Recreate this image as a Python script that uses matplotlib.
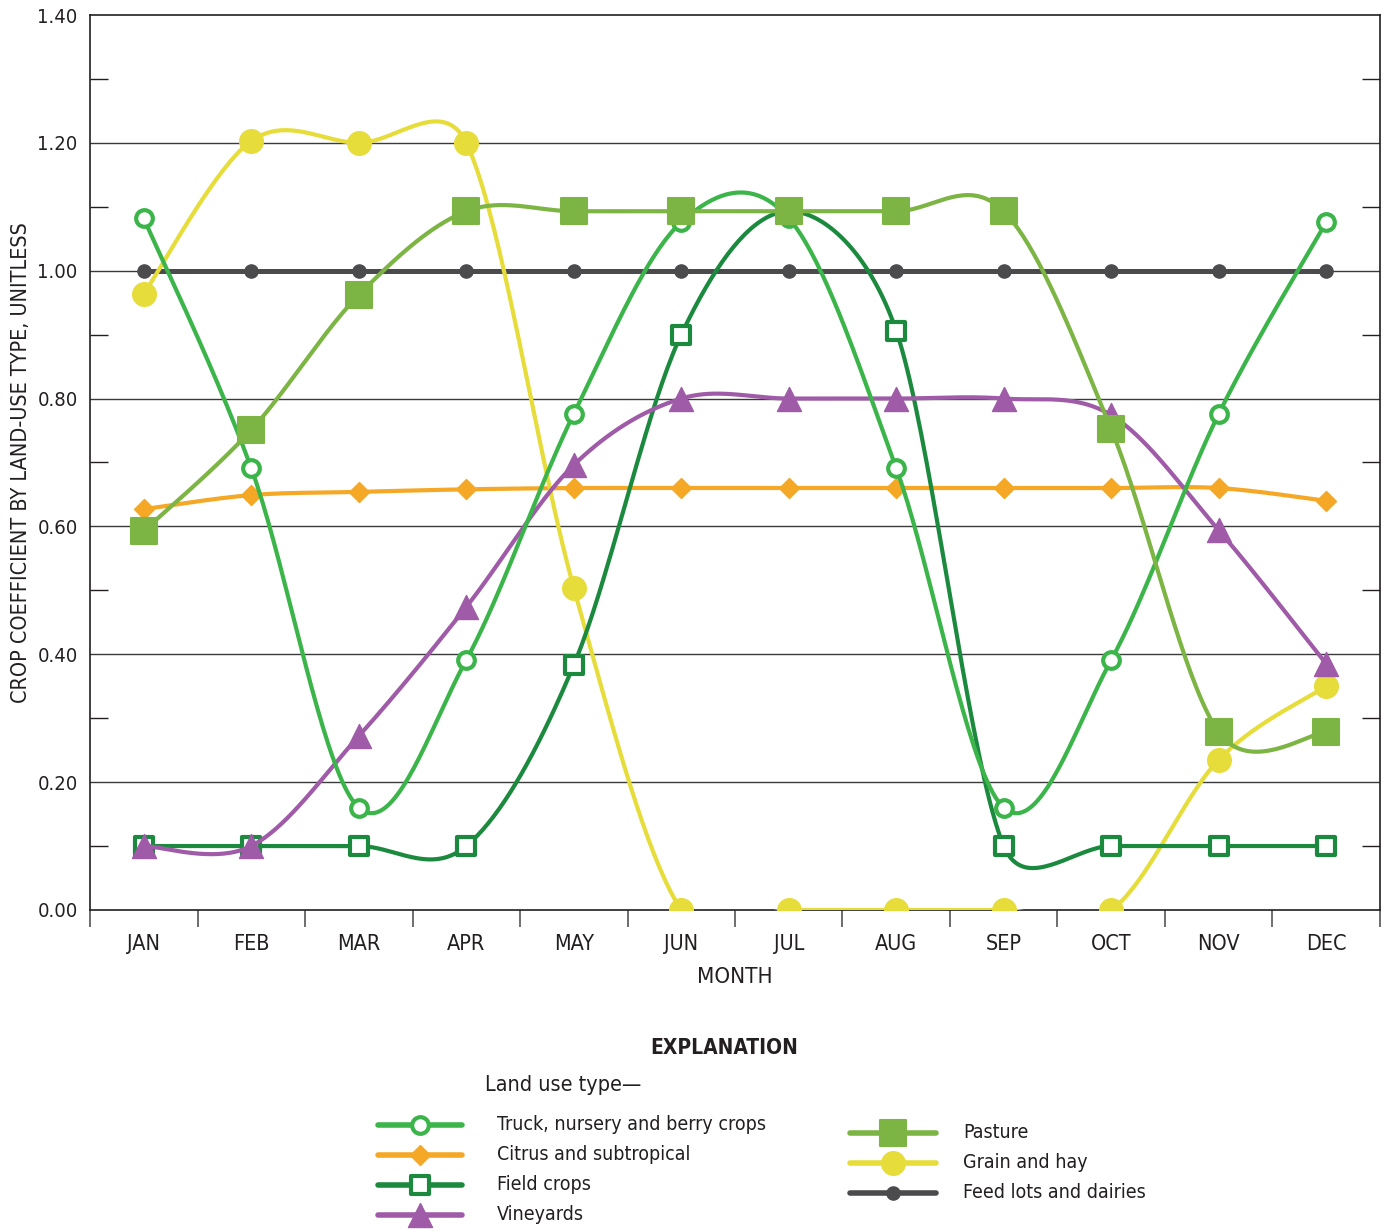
import numpy as np
import matplotlib
matplotlib.use("Agg")
import matplotlib.pyplot as plt
from matplotlib.lines import Line2D
from matplotlib.markers import MarkerStyle

plt.rcParams['font.family'] = ['DejaVu Sans']
plt.rcParams['font.stretch'] = 'condensed'

months = ['JAN', 'FEB', 'MAR', 'APR', 'MAY', 'JUN', 'JUL', 'AUG', 'SEP', 'OCT', 'NOV', 'DEC']

truck = [1.082, 0.691, 0.160, 0.391, 0.776, 1.076, 1.082, 0.691, 0.160, 0.391, 0.776, 1.076]
citrus = [0.627, 0.649, 0.654, 0.658, 0.660, 0.660, 0.660, 0.660, 0.660, 0.660, 0.660, 0.640]
field = [0.10, 0.10, 0.10, 0.10, 0.383, 0.900, 1.093, 0.906, 0.10, 0.10, 0.10, 0.10]
vineyards = [0.10, 0.10, 0.272, 0.474, 0.696, 0.80, 0.80, 0.80, 0.80, 0.774, 0.594, 0.385]
pasture = [0.593, 0.751, 0.962, 1.093, 1.093, 1.093, 1.093, 1.093, 1.093, 0.752, 0.278, 0.278]
grain = [0.964, 1.203, 1.200, 1.200, 0.504, 0.0, 0.0, 0.0, 0.0, 0.0, 0.235, 0.350]
feedlots = [1.0] * 12

labels = ['Truck, nursery and berry crops', 'Citrus and subtropical', 'Field crops', 'Vineyards',
          'Pasture', 'Grain and hay', 'Feed lots and dairies']

C_TRUCK = '#3bb54a'
C_CITRUS = '#f4a825'
C_FIELD = '#1c8a3e'
C_VINE = '#9f5ba7'
C_PAST = '#7db544'
C_GRAIN = '#e6dd3a'
C_FEED = '#4b4b4d'
TXT = '#231f20'


def smooth(ax, xv, yv, n=40):
    # spreadsheet-like smoothed line: bezier in screen space, handles at 1/6 of
    # the neighbour chord, capped at half of the segment length
    P = ax.transData.transform(np.column_stack([xv, yv]))
    k = len(P)
    T = np.zeros_like(P)
    for i in range(k):
        T[i] = (P[min(i + 1, k - 1)] - P[max(i - 1, 0)]) / 6
    out = []
    t = np.linspace(0, 1, n)[:, None]
    for i in range(k - 1):
        d = np.hypot(*(P[i + 1] - P[i]))
        a, b = T[i].copy(), T[i + 1].copy()
        for v in (a, b):
            ln = np.hypot(*v)
            if ln > 0.5 * d:
                v *= 0.5 * d / ln
        c1 = P[i] + a
        c2 = P[i + 1] - b
        seg = ((1 - t)**3 * P[i] + 3 * (1 - t)**2 * t * c1
               + 3 * (1 - t) * t**2 * c2 + t**3 * P[i + 1])
        out.append(seg if i == 0 else seg[1:])
    pts = ax.transData.inverted().transform(np.vstack(out))
    return pts[:, 0], pts[:, 1]


def mks(m):
    return MarkerStyle(m, joinstyle='round')


series = [
    (truck, C_TRUCK, dict(marker=mks('o'), ms=12, mfc='white', mec=C_TRUCK, mew=3)),
    (citrus, C_CITRUS, dict(marker=mks('D'), ms=10, mfc=C_CITRUS, mec=C_CITRUS, mew=1)),
    (field, C_FIELD, dict(marker=mks('s'), ms=13, mfc='white', mec=C_FIELD, mew=3)),
    (vineyards, C_VINE, dict(marker=mks('^'), ms=17, mfc=C_VINE, mec=C_VINE, mew=1)),
    (pasture, C_PAST, dict(marker=mks('s'), ms=18.5, mfc=C_PAST, mec=C_PAST, mew=1.5)),
    (grain, C_GRAIN, dict(marker=mks('o'), ms=17, mfc=C_GRAIN, mec=C_GRAIN, mew=1)),
    (feedlots, C_FEED, dict(marker=mks('o'), ms=9.5, mfc=C_FEED, mec=C_FEED, mew=1)),
]

fig = plt.figure(figsize=(13.83, 12.30), dpi=100)
ax = fig.add_axes([0.0651, 0.2602, 0.9327, 0.7276])
ax.set_xlim(0.5, 12.5)
ax.set_ylim(0, 1.40)

x = np.arange(1, 13)
z_order = [6, 3, 4, 5, 7, 3.5, 2.5]
widths = [3, 3, 3, 3, 3, 3, 3.6]
for (vals, col, mk), z, lw in zip(series, z_order, widths):
    sx, sy = smooth(ax, x, vals)
    ax.plot(sx, sy, color=col, lw=lw, zorder=z, solid_capstyle='round')
    ax.plot(x, vals, linestyle='none', zorder=z + 0.1, **mk)

for yv in np.arange(0.2, 1.3, 0.2):
    ax.axhline(yv, color='#3a3a3a', lw=1.0, zorder=1)

ax.set_yticks(np.arange(0, 1.41, 0.2))
ax.set_yticklabels([f'{v:.2f}' for v in np.arange(0, 1.41, 0.2)], fontsize=14.5, color=TXT)
ax.set_yticks(np.arange(0.1, 1.4, 0.2), minor=True)
ax.tick_params(axis='y', which='major', length=0, pad=9)
ax.tick_params(axis='y', which='minor', direction='in', length=13, width=1,
               color=TXT, left=True, right=True)

ax.set_xticks(x)
ax.set_xticklabels(months, fontsize=15.5, color=TXT)
ax.set_xticks(np.arange(0.5, 12.6, 1), minor=True)
ax.tick_params(axis='x', which='major', length=0, pad=17)
ax.tick_params(axis='x', which='minor', direction='out', length=12, width=1.2, color='#555555')

for s in ax.spines.values():
    s.set_color(TXT)
    s.set_linewidth(1.2)

ax.set_xlabel('MONTH', fontsize=16, color=TXT, labelpad=10)
ax.set_ylabel('CROP COEFFICIENT BY LAND-USE TYPE, UNITLESS', fontsize=15.5, color=TXT)
ax.yaxis.set_label_coords(-0.0457, 0.5)

# explanation block
W, H = 1383, 1230
def fx(px):
    return px / W
def fy(py):
    return 1 - py / H

fig.text(fx(724), fy(1048), 'EXPLANATION', fontsize=15, fontweight='bold', color=TXT,
         ha='center', va='center')
fig.text(fx(485), fy(1085), 'Land use type\u2014', fontsize=15.5, color=TXT, ha='left', va='center')

rows = [(378, 462, 420, 497, 1125), (378, 462, 420, 497, 1155), (378, 462, 420, 497, 1185),
        (378, 462, 420, 497, 1215), (850, 936, 893, 963, 1133), (850, 936, 893, 963, 1163),
        (850, 936, 893, 963, 1193)]
for (vals, col, mk), lab, (x0, x1, xm, xt, yy) in zip(series, labels, rows):
    fig.add_artist(Line2D([fx(x0), fx(x1)], [fy(yy), fy(yy)], color=col, lw=4,
                          solid_capstyle='round', transform=fig.transFigure))
    fig.add_artist(Line2D([fx(xm)], [fy(yy)], linestyle='none',
                          transform=fig.transFigure, **mk))
    fig.text(fx(xt), fy(yy), lab, fontsize=14, color=TXT, ha='left', va='center')

fig.savefig('out.png', dpi=100)
